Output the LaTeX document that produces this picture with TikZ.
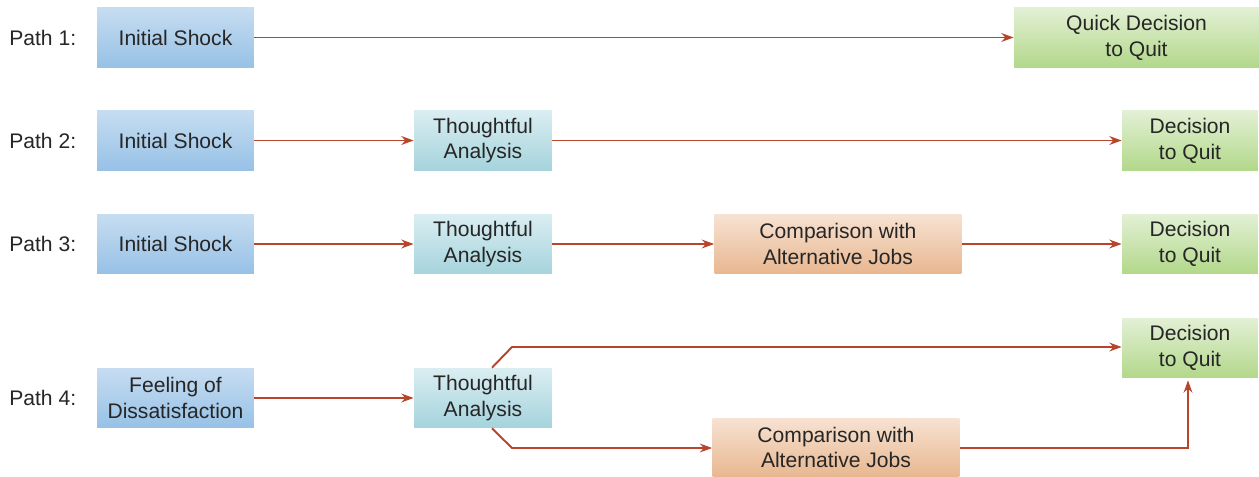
\documentclass[tikz,border=0pt]{standalone}
\usepackage{fontspec}
\setmainfont{Liberation Sans}
\usetikzlibrary{arrows.meta}
\definecolor{arrowred}{HTML}{B8442C}
\definecolor{shocktop}{HTML}{C6DDF1}
\definecolor{shockbot}{HTML}{97C1E6}
\definecolor{thinktop}{HTML}{DAEEF2}
\definecolor{thinkbot}{HTML}{A5D3DC}
\definecolor{comptop}{HTML}{F7E2D2}
\definecolor{compbot}{HTML}{E8B790}
\definecolor{quittop}{HTML}{E3F0D5}
\definecolor{quitbot}{HTML}{B2D88A}
\tikzset{
  box/.style={inner sep=0pt,align=center,text=black!85,font=\fontsize{12}{14.7}\selectfont},
  shock/.style={box,top color=shocktop,bottom color=shockbot,minimum width=3.14cm,minimum height=1.2cm},
  think/.style={box,top color=thinktop,bottom color=thinkbot,minimum width=2.76cm,minimum height=1.2cm},
  comp/.style={box,top color=comptop,bottom color=compbot,minimum width=4.94cm,minimum height=1.18cm},
  quit/.style={box,top color=quittop,bottom color=quitbot,minimum width=2.72cm,minimum height=1.2cm},
  pathlbl/.style={anchor=west,inner sep=0pt,font=\fontsize{12}{14}\selectfont,text=black!85},
  link/.style={draw=arrowred,line width=1.1pt,-{Stealth[length=7pt,width=5pt]}}
}
\begin{document}
\begin{tikzpicture}[x=0.02cm,y=-0.02cm]
		\useasboundingbox (0,0) rectangle (1259,477);
		% path 1
		\node[pathlbl] (p1) at (9,38) {Path 1:};
		\node[shock] (s1) at (175.5,37.5) {Initial Shock};
		\node[quit,minimum width=4.9cm] (q1) at (1136.5,37.5) {Quick Decision\\to Quit};
		\draw[link] (s1) -- (q1);
		% path 2
		\node[pathlbl] (p2) at (9,141) {Path 2:};
		\node[shock] (s2) at (175.5,140.5) {Initial Shock};
		\node[think] (t2) at (483,140.5) {Thoughtful\\Analysis};
		\node[quit] (q2) at (1190,140.5) {Decision\\to Quit};
		\draw[link] (s2) -- (t2);
		\draw[link] (t2) -- (q2);
		% path 3
		\node[pathlbl] (p3) at (9,244) {Path 3:};
		\node[shock] (s3) at (175.5,244) {Initial Shock};
		\node[think] (t3) at (483,244) {Thoughtful\\Analysis};
		\node[comp] (c3) at (838,244) {Comparison with\\Alternative Jobs};
		\node[quit] (q3) at (1190,244) {Decision\\to Quit};
		\draw[link] (s3) -- (t3);
		\draw[link] (t3) -- (c3);
		\draw[link] (c3) -- (q3);
		% path 4
		\node[pathlbl] (p4) at (9,398) {Path 4:};
		\node[shock] (s4) at (175.5,398) {Feeling of\\Dissatisfaction};
		\node[think] (t4) at (483,398) {Thoughtful\\Analysis};
		\node[comp] (c4) at (836,447.5) {Comparison with\\Alternative Jobs};
		\node[quit] (q4) at (1190,348) {Decision\\to Quit};
		\coordinate (up) at (512,347);
		\coordinate (down) at (512,448);
		\coordinate (corner) at (1188,448);
		\draw[link] (s4) -- (t4);
		\draw[link] ([xshift=0.18cm]t4.north) -- (up) -- (q4.west |- up);
		\draw[link] ([xshift=0.18cm]t4.south) -- (down) -- (c4.west |- down);
		\draw[link] (c4.east |- corner) -- (corner) -- ([yshift=-0.04cm]q4.south -| corner);
		\end{tikzpicture}
\end{document}
